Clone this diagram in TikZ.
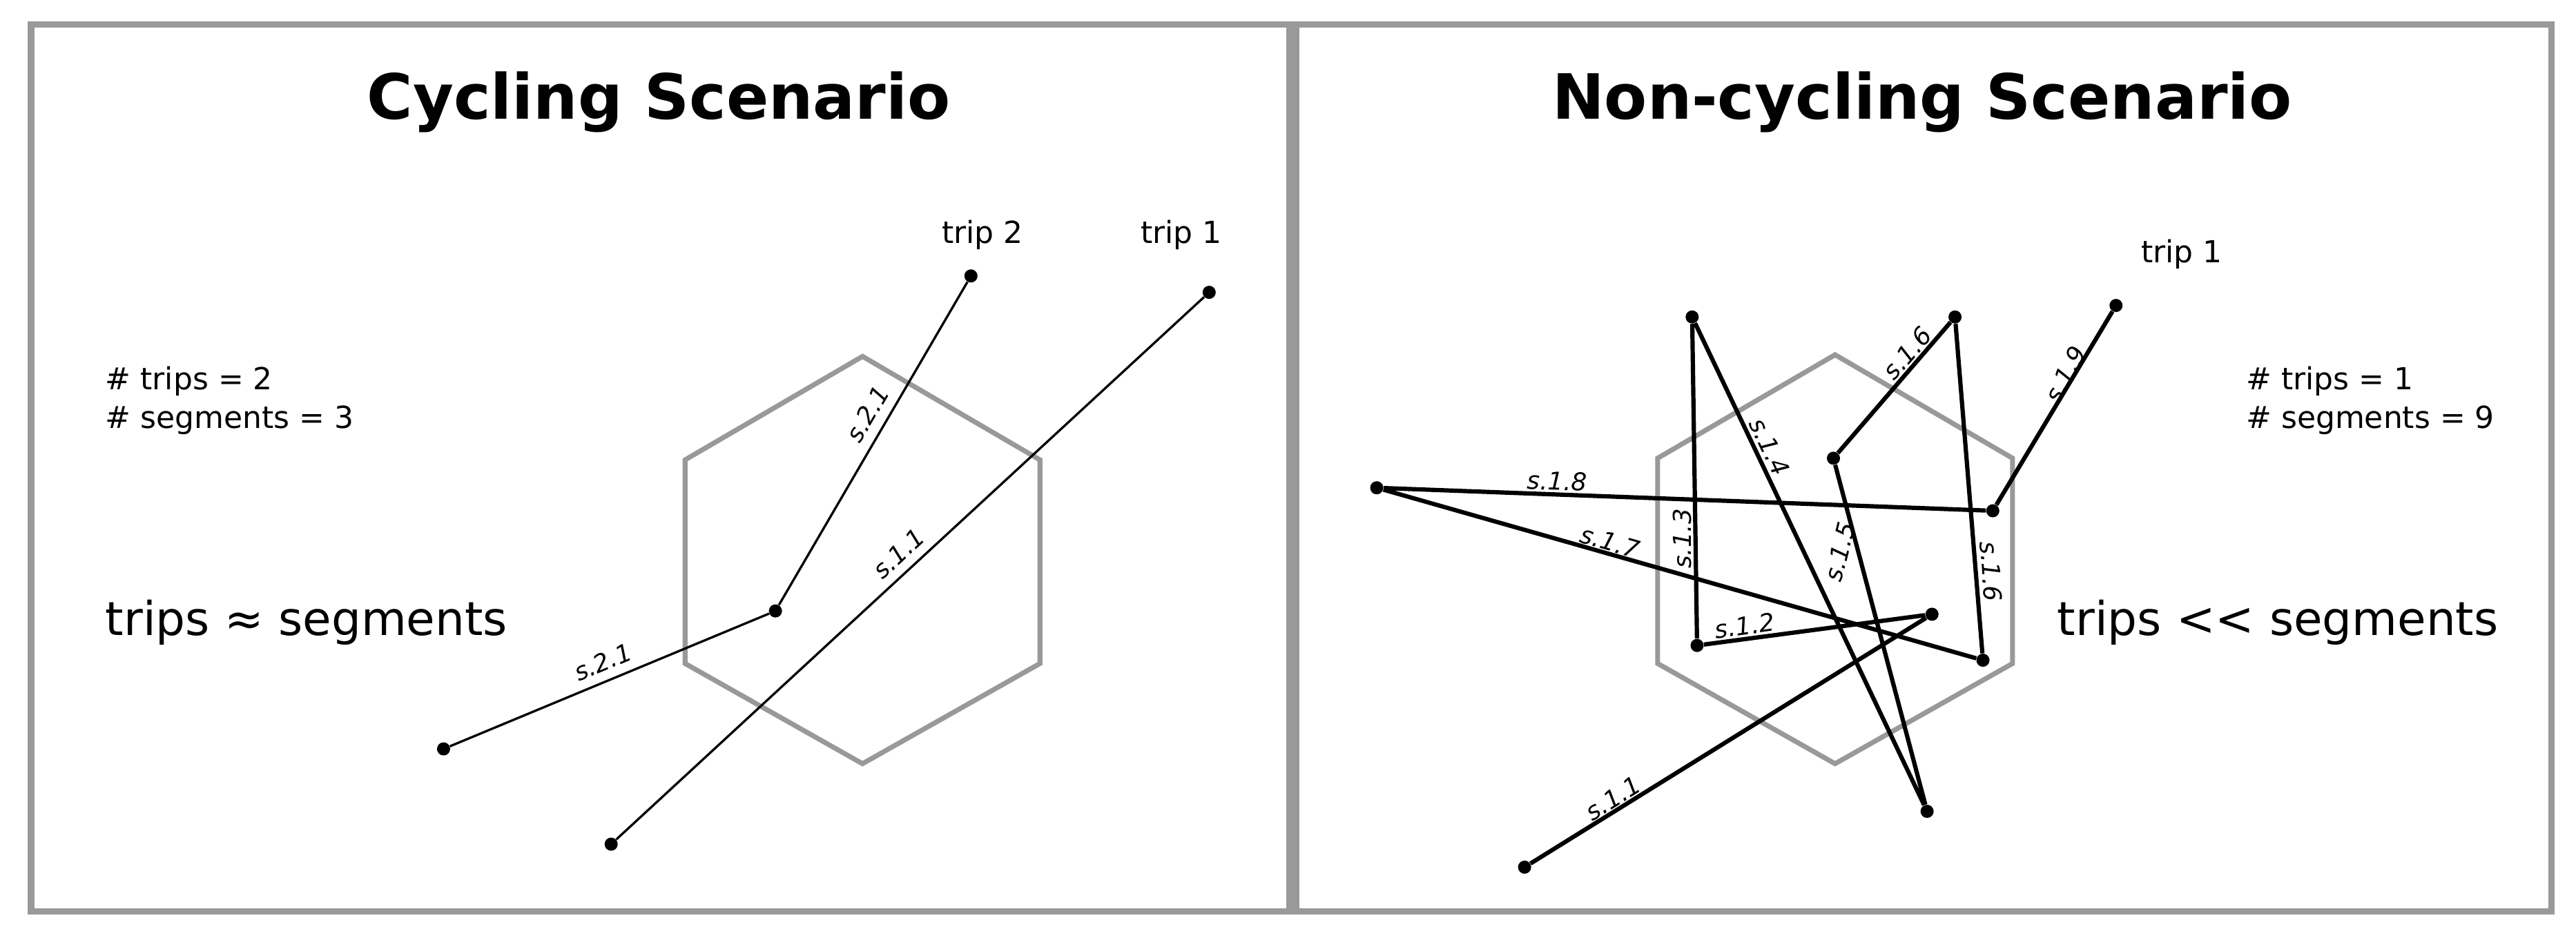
\documentclass[tikz,border=0pt]{standalone}
\usepackage{fontspec}
\setmainfont{DejaVu Sans}
\newfontfamily\obl{DejaVu Sans Oblique}
\begin{document}
\begin{tikzpicture}[x=1pt,y=-1pt,
  frame/.style={draw=black!40,line width=4pt},
  hexa/.style={draw=black!40,line width=3pt},
  dotp/.style={circle,fill=black,inner sep=0pt,minimum size=8pt},
  thinseg/.style={line width=1.4pt},
  thickseg/.style={line width=2.6pt},
  seglab/.style={font=\fontsize{15}{15}\selectfont\obl,inner sep=1pt},
  txt/.style={font=\fontsize{18.5}{22}\selectfont,inner sep=0pt},
  big/.style={font=\fontsize{28.4}{30}\selectfont,inner sep=0pt},
  ttl/.style={font=\fontsize{38}{40}\selectfont\bfseries}]
\useasboundingbox (0,0) rectangle (1568,571);
\draw[frame] (19,15) rectangle (785,555);
\draw[frame] (789,15) rectangle (1553,555);
\node[ttl] at (401,62) {Cycling Scenario};
\node[ttl] at (1170,62) {Non-cycling Scenario};
% left
\draw[hexa] (525,217)--(633,280)--(633,404)--(525,465)--(417,404)--(417,280)--cycle;
\node[txt,anchor=west] (lt) at (64,232) {\# trips = 2};
\node[txt,anchor=west] (ls) at (64,256) {\# segments = 3};
\node[big,anchor=west] (lb) at (64,379) {trips ≈ segments};
\node[dotp] (p1) at (591,168) {};
\node[dotp] (p2) at (472,372) {};
\node[dotp] (p3) at (270,456) {};
\node[dotp] (q1) at (736,178) {};
\node[dotp] (q2) at (372,514) {};
\node[txt] (t2) at (598,143) {trip 2};
\node[txt] (t1) at (719,143) {trip 1};
\draw[thinseg] (p1)--(p2)--(p3);
\draw[thinseg] (q1)--(q2);
\node[seglab,rotate=59.7] at (528,252) {s.2.1};
\node[seglab,rotate=42.7] at (547,337) {s.1.1};
\node[seglab,rotate=22.6] at (367,403) {s.2.1};
% right
\draw[hexa] (1117,216)--(1225,279)--(1225,404)--(1117,465)--(1009,404)--(1009,279)--cycle;
\node[txt,anchor=west] (rt) at (1367,232) {\# trips = 1};
\node[txt,anchor=west] (rs) at (1367,256) {\# segments = 9};
\node[big,anchor=east] (rb) at (1521,379) {trips {<}{<} segments};
\node[txt] (r1) at (1328,155) {trip 1};
\node[dotp] (A) at (928,528) {};
\node[dotp] (B) at (1176,374) {};
\node[dotp] (C) at (1033,393) {};
\node[dotp] (D) at (1030,193) {};
\node[dotp] (E) at (1173,494) {};
\node[dotp] (F) at (1116,279) {};
\node[dotp] (G) at (1190,193) {};
\node[dotp] (H) at (1207,402) {};
\node[dotp] (I) at (838,297) {};
\node[dotp] (J) at (1213,311) {};
\node[dotp] (K) at (1288,186) {};
\draw[thickseg] (A)--(B)--(C)--(D)--(E)--(F)--(G)--(H)--(I)--(J)--(K);
\node[seglab,rotate=32] at (982,486) {s.1.1};
\node[seglab,rotate=8] at (1062,381) {s.1.2};
\node[seglab,rotate=90] at (1024,328) {s.1.3};
\node[seglab,rotate=-64.6] at (1077,272) {s.1.4};
\node[seglab,rotate=76] at (1120,336) {s.1.5};
\node[seglab,rotate=49] at (1161,215) {s.1.6};
\node[seglab,rotate=-86] at (1212,348) {s.1.6};
\node[seglab,rotate=-16] at (980,330) {s.1.7};
\node[seglab,rotate=-2] at (948,293) {s.1.8};
\node[seglab,rotate=62] at (1257,228) {s.1.9};
\end{tikzpicture}
\end{document}
